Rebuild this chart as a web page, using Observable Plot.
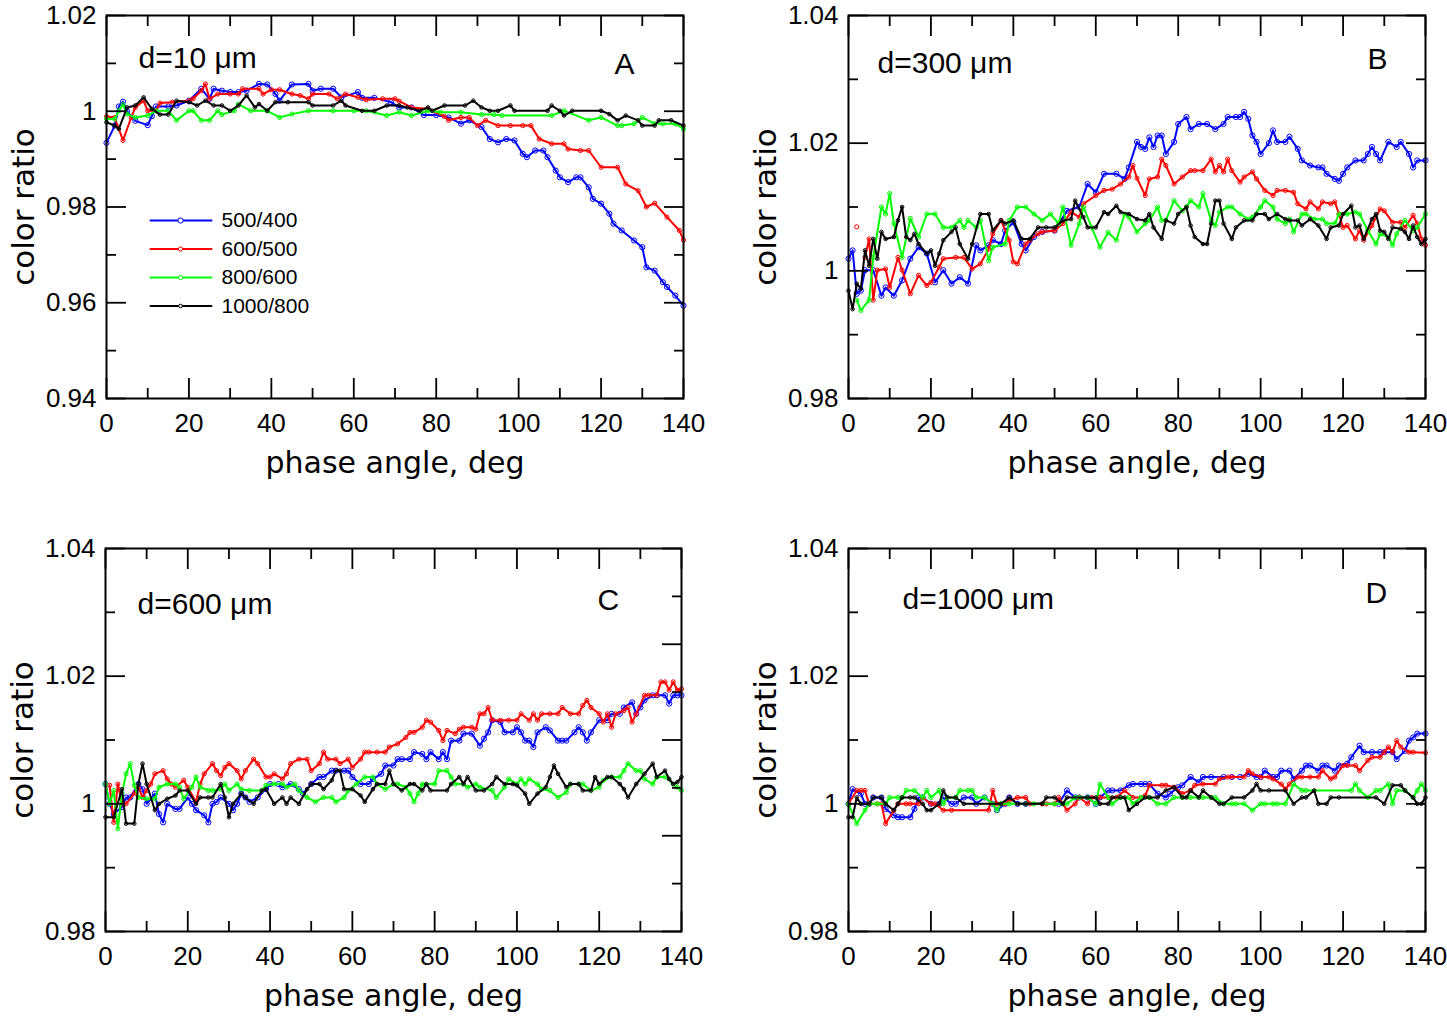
<!DOCTYPE html>
<html>
<head>
<meta charset="utf-8">
<script src="https://cdn.jsdelivr.net/npm/d3@7"></script>
<script src="https://cdn.jsdelivr.net/npm/@observablehq/plot@0.6"></script>
<style>
  body { margin: 0; background: #fff; }
  #fig { position: relative; width: 1447px; height: 1016px; background: #fff; }
  #fig svg { position: absolute; }
</style>
</head>
<body>
<div id="fig"></div>
<script>
// Color ratios vs. phase angle for four particle sizes.
const ratioNames = ["500/400", "600/500", "800/600", "1000/800"];
const ratioColors = ["#0000ff", "#ff0000", "#00ff00", "#000000"];
const markerRadius = [2.6, 2.1, 2.1, 1.8];

const degTicks = [0, 20, 40, 60, 80, 100, 120, 140];
const degMinor = [10, 30, 50, 70, 90, 110, 130];
const ratioTicksA = [0.94, 0.96, 0.98, 1, 1.02];
const ratioMinorA = [0.95, 0.97, 0.99, 1.01];
const ratioTicks = [0.98, 1, 1.02, 1.04];
const ratioMinor = [0.99, 1.01, 1.03];
const rightTicksC = [0.98, 0.995, 1.01, 1.025, 1.04];
const rightMinorC = [0.9875, 1.0025, 1.0175, 1.0325];

// d = 10 um  ([phase angle, ratio])
const d10_500_400 = [[0,0.9934],[2,0.997],[3,1.001],[4,1.002],[5,1.000],[7,0.998],[10,0.9971],[11,0.999],[12,1.001],[15,1.001],[17,1.0012],[20,1.0022],[23,1.0047],[25,1.0026],[26,1.0047],[28,1.0043],[30,1.004],[32,1.004],[34,1.0043],[37,1.0057],[39,1.0056],[41,1.0036],[42,1.0022],[45,1.0056],[49,1.0057],[50,1.0043],[52,1.0047],[55,1.0047],[57,1.0029],[61,1.004],[62,1.0028],[65,1.0028],[69,1.0019],[71,1.0008],[74,1.0008],[77,0.9992],[80,0.9992],[83,0.9987],[86,0.9974],[88,0.9981],[91,0.9967],[93,0.9942],[95,0.9935],[97,0.9942],[99,0.9939],[101,0.9911],[102,0.9904],[104,0.9918],[106,0.9918],[107,0.9904],[109,0.9876],[110,0.9862],[112,0.9852],[114,0.9862],[115,0.9862],[117,0.9841],[118,0.9817],[120,0.9807],[122,0.9786],[123,0.9765],[125,0.9751],[128,0.973],[130,0.9716],[131,0.9674],[133,0.9667],[135,0.9643],[136,0.9633],[138,0.9615],[140,0.9594]];
const d10_600_500 = [[0,0.9989],[2,0.9987],[4,0.9939],[6,0.9987],[7,1.0008],[9,1.0022],[10,1.0001],[12,1.0001],[13,1.0017],[16,1.0019],[20,1.0022],[21,1.0026],[23,1.0043],[24,1.0057],[25,1.0026],[27,1.0036],[30,1.0036],[32,1.0036],[33,1.0047],[37,1.0047],[38,1.0036],[40,1.0045],[42,1.0045],[45,1.0036],[47,1.0033],[49,1.0026],[50,1.0036],[54,1.0036],[56,1.0026],[58,1.0036],[61,1.0029],[63,1.0024],[67,1.0026],[70,1.0026],[71,1.0021],[74,1.0008],[78,1.0005],[82,0.9989],[83,0.9981],[86,0.9987],[88,0.9987],[90,0.997],[92,0.9981],[95,0.997],[98,0.997],[101,0.997],[103,0.997],[105,0.9942],[108,0.9932],[111,0.9932],[112,0.9921],[115,0.9918],[117,0.9918],[120,0.9883],[124,0.9883],[126,0.9848],[129,0.9834],[131,0.98],[133,0.9808],[136,0.9779],[139,0.9751],[140,0.9731]];
const d10_800_600 = [[0,0.9984],[2,0.9984],[3,1.0001],[4,1.0014],[5,0.9994],[7,0.9987],[10,0.9991],[12,1.0001],[15,1.0001],[17,0.9981],[20,1.0001],[21,1.0001],[23,0.9981],[25,0.9981],[27,1.0001],[28,0.9993],[31,1.0001],[32,1.0015],[35,1.0001],[39,1.0001],[42,0.9987],[45,0.9994],[49,1.0001],[55,1.0001],[60,1.0001],[63,1.0001],[68,0.9991],[71,0.9998],[74,0.9991],[78,1.0001],[81,0.9998],[86,0.9998],[91,0.9993],[94,0.9993],[96,0.9991],[108,0.9991],[111,1.0001],[117,0.9981],[120,0.9987],[124,0.997],[125,0.997],[128,0.9974],[130,0.9987],[133,0.9974],[135,0.9974],[138,0.9974],[140,0.9963]];
const d10_1000_800 = [[0,0.9977],[2,0.997],[3,0.9963],[5,1.0008],[7,1.0012],[9,1.0029],[11,1.0005],[13,0.9993],[15,0.9993],[17,1.0022],[20,1.0019],[22,1.0012],[24,1.0022],[26,1.0012],[28,1.0012],[30,1.0001],[32,1.0012],[34,1.0033],[36,1.0008],[37,1.0015],[39,1.0001],[41,1.0019],[44,1.0019],[49,1.0019],[50,1.0012],[55,1.0012],[57,1.0022],[58,1.0012],[62,1.0001],[65,1.0001],[68,1.0012],[71,1.0012],[73,1.0008],[76,1.0001],[78,1.0008],[79,1.0001],[82,1.0012],[87,1.0012],[89,1.0022],[91,1.0008],[93,1.0001],[95,1.0001],[98,1.0012],[99,1.0001],[107,1.0001],[108,1.0012],[110,1.0001],[111,0.9991],[113,1.0001],[120,1.0001],[122,0.9994],[124,0.9981],[126,0.9991],[129,0.9981],[130,0.997],[133,0.997],[134,0.9981],[137,0.9981],[140,0.997]];

// d = 300 um
const d300_500_400 = [[0,1.0019],[1,1.0032],[2,0.9964],[3,0.9969],[4,1.0001],[6,1.0001],[8,0.9961],[9,0.9974],[11,0.9961],[13,0.9985],[15,1.0019],[17,1.0037],[19,1.0027],[21,0.9982],[23,1.0001],[25,0.998],[27,0.999],[29,0.998],[31,1.004],[32,1.0032],[34,1.004],[35,1.0048],[37,1.0042],[38,1.0063],[40,1.0076],[42,1.0042],[43,1.0032],[45,1.0053],[47,1.0061],[50,1.0063],[53,1.0094],[56,1.01],[58,1.0136],[60,1.0123],[62,1.0152],[65,1.0152],[67,1.0144],[68,1.0162],[70,1.0202],[71,1.0194],[72,1.0191],[73,1.0209],[74,1.0194],[75,1.0212],[76,1.0212],[77,1.0183],[79,1.0202],[80,1.023],[82,1.0241],[83,1.0222],[85,1.023],[87,1.023],[89,1.0222],[91,1.023],[92,1.0241],[94,1.0241],[95,1.0241],[96,1.0249],[97,1.0238],[98,1.0212],[99,1.0202],[100,1.0183],[102,1.02],[103,1.022],[104,1.0202],[106,1.0202],[107,1.021],[109,1.0191],[110,1.0173],[112,1.0165],[114,1.0162],[115,1.0162],[116,1.0152],[118,1.0144],[119,1.0141],[120,1.0152],[121,1.0162],[123,1.0173],[125,1.0173],[126,1.0183],[127,1.0194],[128,1.0183],[129,1.0173],[131,1.0202],[133,1.0194],[134,1.0202],[136,1.0183],[137,1.0162],[138,1.0173],[140,1.0173]];
const d300_600_500 = [[4,1.0021],[5,1.005],[6,0.9954],[7,1.0001],[9,1.0003],[10,0.9974],[12,1.0021],[13,1.0001],[15,0.9964],[17,0.9993],[19,0.9977],[20,0.9982],[22,1.0006],[23,1.0019],[26,1.0021],[28,1.0021],[30,1.0003],[32,1.0011],[34,1.0034],[35,1.0058],[37,1.0079],[39,1.0048],[40,1.0014],[41,1.0011],[43,1.0042],[44,1.0048],[46,1.0058],[47,1.0061],[50,1.0063],[52,1.0074],[54,1.0092],[56,1.0084],[57,1.0105],[60,1.0118],[62,1.0126],[64,1.0128],[66,1.0136],[68,1.0147],[69,1.0165],[70,1.0145],[72,1.0118],[73,1.0144],[75,1.0147],[76,1.0175],[77,1.0165],[79,1.0136],[81,1.0147],[83,1.0157],[84,1.0157],[86,1.0157],[88,1.0175],[89,1.0155],[90,1.0165],[91,1.0155],[92,1.0175],[93,1.0157],[95,1.0139],[96,1.0147],[98,1.0155],[99,1.0144],[101,1.0126],[103,1.0118],[104,1.0126],[106,1.0126],[108,1.0123],[109,1.0105],[111,1.0097],[112,1.0108],[114,1.0097],[115,1.0108],[117,1.0105],[118,1.0108],[119,1.0089],[120,1.0068],[121,1.0071],[123,1.005],[124,1.0063],[125,1.0048],[127,1.0071],[129,1.0097],[130,1.0094],[132,1.0076],[134,1.0076],[135,1.0068],[137,1.0087],[138,1.0074],[139,1.005],[140,1.004]];
const d300_600_500_stray = [[2,1.0069]];
const d300_800_600 = [[2,0.9954],[3,0.9938],[5,0.9954],[6,1.0021],[8,1.01],[9,1.0089],[10,1.0121],[11,1.0074],[13,1.0021],[15,1.0082],[17,1.0053],[19,1.0089],[21,1.0089],[23,1.0068],[25,1.0068],[27,1.0079],[28,1.0068],[29,1.0079],[31,1.0068],[32,1.0079],[34,1.0016],[35,1.0037],[38,1.0042],[39,1.0079],[41,1.01],[43,1.01],[45,1.0089],[47,1.0079],[49,1.0089],[51,1.0074],[52,1.01],[54,1.004],[56,1.0074],[57,1.01],[59,1.0068],[61,1.0037],[63,1.006],[65,1.0048],[67,1.0089],[68,1.0084],[70,1.0061],[72,1.0074],[73,1.0079],[75,1.01],[76,1.0079],[77,1.0079],[79,1.011],[81,1.0094],[82,1.01],[83,1.011],[85,1.01],[86,1.0121],[88,1.0079],[89,1.0071],[90,1.0092],[92,1.01],[93,1.01],[95,1.0089],[97,1.0081],[98,1.0084],[100,1.01],[101,1.011],[103,1.01],[104,1.0081],[106,1.0074],[107,1.0081],[108,1.0061],[110,1.0089],[111,1.0089],[113,1.0081],[115,1.0081],[116,1.0074],[118,1.0074],[119,1.0089],[121,1.0089],[123,1.0092],[124,1.0089],[126,1.0063],[128,1.0042],[129,1.0058],[131,1.0053],[132,1.004],[133,1.0058],[135,1.0079],[137,1.0063],[138,1.0068],[140,1.0089]];
const d300_1000_800 = [[0,0.9969],[1,0.994],[2,0.998],[3,0.9972],[4,1.0032],[5,1.0008],[6,1.005],[7,1.0019],[8,1.0061],[9,1.005],[11,1.0053],[12,1.0079],[13,1.01],[14,1.0053],[15,1.0048],[16,1.0058],[17,1.0042],[19,1.0027],[20,1.0032],[21,1.0008],[22,1.0027],[23,1.0048],[25,1.0061],[26,1.0068],[27,1.0042],[29,1.0019],[30,1.0042],[32,1.0089],[34,1.0089],[35,1.0063],[37,1.0079],[38,1.0074],[40,1.0079],[42,1.005],[44,1.005],[46,1.0068],[48,1.0068],[50,1.0068],[52,1.0079],[54,1.0081],[55,1.011],[57,1.0084],[58,1.0068],[60,1.0068],[62,1.0092],[63,1.0089],[65,1.0102],[66,1.0092],[68,1.0089],[70,1.0081],[72,1.0079],[73,1.0089],[74,1.0068],[76,1.005],[77,1.0079],[79,1.0074],[80,1.0089],[82,1.01],[83,1.0071],[84,1.0053],[86,1.0042],[87,1.0042],[88,1.0074],[89,1.011],[90,1.011],[91,1.0074],[93,1.005],[94,1.0068],[96,1.0079],[98,1.0079],[99,1.0089],[101,1.0089],[102,1.0081],[104,1.0089],[106,1.0081],[107,1.0079],[109,1.0079],[110,1.0071],[112,1.0081],[114,1.0071],[116,1.005],[117,1.0068],[119,1.0071],[120,1.0089],[122,1.0102],[123,1.0068],[124,1.0071],[125,1.005],[127,1.0081],[128,1.0089],[129,1.0063],[130,1.0061],[131,1.005],[132,1.0068],[134,1.0066],[135,1.0061],[136,1.005],[137,1.0071],[138,1.0053],[139,1.0042],[140,1.005]];

// d = 600 um
const d600_500_400 = [[0,1.0031],[1,1.0],[2,0.9984],[4,0.9995],[5,1.001],[6,1.001],[8,1.0031],[9,1.0023],[10,1.0],[12,1.0016],[13,0.9984],[14,0.9971],[15,1.0],[17,0.9992],[18,0.9992],[20,1.001],[21,1.0],[22,0.999],[24,0.9982],[25,0.9971],[26,1.0],[27,1.0003],[28,1.001],[30,1.0],[31,0.999],[32,1.0],[33,1.0016],[34,1.001],[35,1.0003],[37,1.001],[39,1.0023],[40,1.0031],[42,1.0031],[43,1.0026],[45,1.0031],[47,1.0023],[48,1.0016],[50,1.0031],[52,1.0042],[53,1.0042],[55,1.0052],[56,1.0052],[58,1.0052],[59,1.0052],[60,1.0042],[62,1.0031],[64,1.0031],[65,1.0039],[67,1.0047],[68,1.006],[70,1.006],[71,1.007],[72,1.007],[74,1.007],[75,1.0081],[77,1.0078],[78,1.007],[79,1.0081],[81,1.007],[82,1.0081],[83,1.007],[84,1.0099],[86,1.0099],[87,1.011],[89,1.011],[91,1.0091],[92,1.0102],[93,1.0112],[94,1.0131],[96,1.0128],[97,1.0112],[99,1.0112],[100,1.012],[101,1.0112],[102,1.0099],[103,1.0099],[104,1.0089],[105,1.0112],[107,1.012],[108,1.0115],[110,1.0099],[111,1.0099],[112,1.0099],[114,1.0112],[115,1.012],[116,1.0112],[117,1.0099],[118,1.0112],[120,1.0131],[122,1.0131],[123,1.0141],[125,1.0141],[126,1.0151],[128,1.0159],[129,1.0141],[130,1.0151],[131,1.0162],[133,1.017],[134,1.017],[136,1.017],[137,1.0157],[138,1.017],[139,1.017],[140,1.017]];
const d600_600_500 = [[1,1.0029],[2,0.9971],[3,1.0031],[4,1.0],[5,1.0],[7,1.0016],[8,1.0026],[9,1.001],[10,1.0021],[11,1.0031],[12,1.0047],[14,1.0052],[15,1.0039],[16,1.0031],[17,1.0026],[19,1.0037],[20,1.0026],[22,1.0003],[23,1.0031],[24,1.0047],[26,1.0063],[27,1.0052],[28,1.0044],[29,1.0057],[30,1.0063],[32,1.0052],[33,1.0039],[34,1.0052],[36,1.007],[37,1.0063],[39,1.0042],[40,1.0042],[41,1.0047],[43,1.0039],[44,1.0047],[45,1.0063],[47,1.007],[49,1.007],[50,1.0052],[52,1.0063],[53,1.0081],[54,1.007],[56,1.007],[57,1.0063],[59,1.007],[60,1.0057],[62,1.007],[63,1.0081],[64,1.0081],[66,1.0081],[68,1.0081],[69,1.0089],[71,1.0094],[73,1.0104],[74,1.0112],[75,1.0112],[77,1.012],[78,1.0131],[79,1.0128],[81,1.0115],[82,1.0099],[83,1.0115],[85,1.011],[86,1.0117],[87,1.012],[89,1.012],[90,1.0117],[91,1.0141],[92,1.0141],[93,1.0151],[94,1.0131],[96,1.0131],[98,1.0131],[100,1.0131],[101,1.0141],[103,1.0131],[104,1.0141],[105,1.0131],[106,1.0141],[108,1.0141],[110,1.0141],[111,1.0151],[113,1.0141],[115,1.0141],[116,1.0154],[117,1.0162],[118,1.0151],[120,1.0141],[121,1.0128],[122,1.0141],[123,1.012],[124,1.0141],[126,1.0146],[127,1.0151],[128,1.0128],[129,1.0141],[131,1.017],[132,1.017],[134,1.017],[135,1.0191],[136,1.0191],[137,1.0178],[138,1.0191],[139,1.0178],[140,1.018]];
const d600_800_600 = [[0,1.0031],[1,1.0],[2,1.0021],[3,0.9961],[4,1.0016],[5,1.0047],[6,1.0063],[7,1.0029],[8,1.001],[10,1.0008],[12,1.0008],[13,1.0026],[15,1.0031],[17,1.0031],[18,1.0026],[19,1.0008],[21,1.0026],[22,1.0042],[23,1.0026],[25,1.0021],[26,1.0021],[28,1.0023],[29,1.0031],[30,1.0021],[32,1.0031],[33,1.0023],[35,1.0021],[38,1.0021],[39,1.0029],[41,1.0031],[43,1.0031],[44,1.0026],[46,1.0031],[47,1.0021],[49,1.001],[51,1.0003],[53,1.001],[55,1.001],[56,1.0003],[58,1.001],[59,1.0021],[61,1.0031],[63,1.0042],[65,1.0042],[66,1.0031],[68,1.0023],[70,1.0031],[71,1.0031],[73,1.0026],[74,1.0016],[75,1.0003],[76,1.0016],[77,1.0031],[80,1.0031],[81,1.0052],[83,1.0052],[84,1.0042],[85,1.0031],[87,1.0031],[88,1.0026],[90,1.0031],[91,1.0026],[94,1.0021],[95,1.001],[97,1.0026],[98,1.0039],[100,1.0031],[101,1.0039],[102,1.0031],[103,1.0039],[105,1.0031],[106,1.0023],[108,1.0021],[110,1.001],[112,1.0018],[113,1.0031],[115,1.0031],[116,1.0031],[118,1.0021],[120,1.0026],[121,1.0037],[123,1.0042],[125,1.0042],[126,1.0052],[127,1.0063],[129,1.0052],[130,1.0052],[131,1.0039],[133,1.0031],[134,1.0042],[136,1.0042],[138,1.0031],[139,1.0026],[140,1.0021]];
const d600_1000_800 = [[0,0.9979],[2,0.9979],[4,1.0023],[5,0.9969],[7,0.9969],[8,1.0031],[9,1.0063],[10,1.0031],[12,0.999],[13,1.0],[15,1.0008],[17,1.0013],[18,1.0021],[20,1.0021],[22,1.0],[23,1.001],[25,1.001],[26,1.001],[28,1.0031],[29,1.001],[30,0.9979],[31,1.0],[33,1.0016],[34,1.001],[36,1.0],[38,1.0021],[39,1.0023],[41,1.0],[43,1.001],[44,1.0],[45,1.001],[47,1.0],[49,1.0023],[50,1.0031],[52,1.0031],[53,1.0023],[55,1.0037],[56,1.0052],[57,1.0052],[58,1.0023],[60,1.0023],[62,1.0013],[63,1.0003],[65,1.0023],[66,1.0031],[68,1.0031],[69,1.0052],[70,1.0031],[72,1.0021],[74,1.0031],[75,1.0031],[77,1.0021],[78,1.0031],[79,1.0021],[83,1.0021],[84,1.0031],[86,1.0042],[87,1.0031],[88,1.0042],[90,1.0021],[92,1.0021],[94,1.0031],[95,1.0042],[97,1.0031],[99,1.0031],[100,1.0029],[102,1.0016],[103,1.0],[105,1.0016],[107,1.0026],[108,1.0042],[109,1.006],[110,1.0047],[112,1.0026],[113,1.0031],[115,1.0031],[116,1.0021],[118,1.0021],[119,1.0042],[120,1.0031],[122,1.0042],[123,1.0042],[125,1.0031],[126,1.0023],[127,1.001],[129,1.0031],[131,1.0047],[133,1.0063],[134,1.0042],[136,1.0052],[137,1.0039],[138,1.0031],[139,1.0034],[140,1.0042]];

// d = 1000 um
const d1000_500_400 = [[0,1.0],[1,1.0023],[3,1.0016],[4,1.0],[5,1.0],[6,1.001],[8,1.001],[9,0.9992],[11,0.9982],[12,0.9979],[13,0.9979],[15,0.9979],[16,0.9992],[17,1.001],[18,1.001],[20,1.0],[22,1.0],[23,1.001],[25,1.0],[26,1.0],[28,1.001],[30,1.001],[31,1.0],[33,1.001],[35,1.0],[36,0.999],[38,1.0],[39,1.001],[41,1.0],[43,1.0],[51,1.0],[53,1.0021],[55,1.001],[56,1.001],[58,1.001],[60,1.0],[61,1.001],[63,1.0021],[64,1.0021],[66,1.0021],[68,1.0029],[69,1.0031],[71,1.0031],[72,1.0031],[73,1.0031],[75,1.0016],[77,1.001],[78,1.0016],[80,1.0026],[81,1.0029],[83,1.0042],[85,1.0034],[86,1.0042],[88,1.0042],[91,1.0042],[93,1.0042],[95,1.0042],[97,1.0047],[99,1.0042],[100,1.0042],[101,1.0052],[103,1.0042],[104,1.0042],[105,1.0052],[107,1.0052],[108,1.0039],[110,1.0052],[111,1.006],[112,1.006],[114,1.0052],[115,1.006],[116,1.006],[118,1.0052],[119,1.006],[121,1.0063],[122,1.0073],[124,1.0091],[125,1.0081],[127,1.0081],[129,1.0081],[130,1.0081],[132,1.0081],[133,1.007],[135,1.0083],[136,1.0099],[137,1.0104],[138,1.011],[140,1.011]];
const d1000_600_500 = [[0,1.0],[2,1.0021],[3,1.0021],[4,1.0021],[5,1.0],[7,1.0],[8,1.0],[9,0.9969],[11,0.999],[12,1.0],[14,1.0],[15,1.0],[17,1.0],[18,1.001],[20,1.0],[21,1.0],[23,0.999],[25,0.999],[34,0.999],[35,1.0021],[36,1.0],[38,1.0],[39,1.0005],[41,1.001],[43,1.001],[44,1.0],[47,1.0],[48,1.0],[50,1.0],[51,1.001],[53,0.999],[55,1.0],[56,1.001],[58,1.0],[59,1.001],[61,1.001],[63,1.001],[65,1.001],[67,1.0021],[69,1.001],[71,1.001],[72,1.0013],[73,1.0029],[76,1.0029],[77,1.0029],[79,1.0026],[81,1.0016],[83,1.0021],[84,1.0029],[86,1.0031],[89,1.0031],[90,1.0039],[92,1.0042],[93,1.0042],[96,1.0042],[97,1.0052],[98,1.0047],[100,1.0042],[102,1.0042],[103,1.0039],[105,1.0031],[106,1.0023],[107,1.0031],[109,1.0042],[110,1.0042],[112,1.0042],[114,1.0042],[115,1.0052],[117,1.0039],[118,1.0042],[120,1.006],[121,1.006],[123,1.006],[124,1.0052],[126,1.0068],[127,1.0073],[129,1.0073],[130,1.0081],[131,1.0089],[132,1.0081],[133,1.0099],[134,1.0089],[136,1.0081],[137,1.0081],[140,1.008]];
const d1000_800_600 = [[0,1.0],[2,0.9969],[4,0.999],[5,1.0],[7,1.0],[9,1.0],[10,1.001],[12,1.001],[13,1.001],[14,1.0021],[16,1.0021],[18,1.001],[19,1.0021],[20,1.001],[22,1.0021],[23,1.0],[24,1.001],[26,1.001],[27,1.0021],[29,1.0021],[30,1.0021],[31,1.001],[33,1.001],[35,1.0],[36,0.999],[37,1.0],[39,1.0],[43,1.0],[45,1.0],[50,1.0],[52,1.0],[53,1.0],[55,1.001],[56,1.001],[58,1.001],[60,1.0],[61,1.0031],[63,1.001],[64,1.0],[66,1.001],[68,1.001],[69,1.0],[71,1.001],[73,1.001],[75,1.0],[77,1.0],[79,1.001],[81,1.001],[83,1.001],[85,1.001],[86,1.001],[88,1.001],[89,1.001],[91,1.0],[93,1.0],[94,1.0],[96,1.0],[98,0.999],[100,1.0],[101,1.0],[103,1.0],[104,1.0],[106,1.0],[108,1.0031],[110,1.0021],[111,1.0021],[122,1.0021],[123,1.0031],[124,1.0021],[126,1.001],[128,1.0021],[129,1.0021],[131,1.0031],[132,1.0],[133,1.0021],[135,1.0021],[137,1.001],[138,1.0021],[139,1.0031],[140,1.0021]];
const d1000_1000_800 = [[0,0.9979],[1,0.9979],[2,1.001],[3,1.0],[5,1.0],[6,1.001],[8,1.001],[9,1.0],[11,0.999],[12,1.0],[13,1.001],[15,1.001],[16,1.001],[18,1.0],[19,0.999],[20,0.999],[22,1.0],[23,1.0021],[24,1.001],[26,1.001],[28,1.0],[37,1.0],[39,1.001],[41,1.0],[43,1.0],[47,1.0],[48,1.001],[50,1.001],[52,1.0],[53,1.001],[58,1.001],[60,1.001],[61,1.0],[63,1.0],[64,1.001],[66,1.001],[67,1.001],[68,0.999],[70,1.0],[72,1.001],[73,1.001],[75,1.001],[77,1.0021],[79,1.0026],[81,1.001],[82,1.001],[83,1.0021],[85,1.001],[86,1.0021],[88,1.001],[90,1.0],[91,1.0],[93,1.001],[96,1.001],[98,1.0021],[99,1.0031],[100,1.0021],[102,1.0021],[106,1.0021],[108,1.0],[110,1.001],[111,1.001],[113,1.0021],[114,1.0],[116,1.0],[117,1.001],[119,1.001],[128,1.001],[130,1.0],[132,1.0029],[134,1.0029],[135,1.0021],[137,1.001],[138,1.0],[139,1.0],[140,1.001]];

const LABEL_FONT = "'DejaVu Sans', Verdana, sans-serif";
const TEXT_FONT = "'Liberation Sans', Arial, Helvetica, sans-serif";

// a straight stroke for vector marks (used by the legend swatches)
const strokeShape = {draw(context, l) { context.moveTo(0, 0); context.lineTo(0, -l); }};

function seriesMarks(seriesList) {
  const marks = [];
  seriesList.forEach((data, i) => {
    marks.push(Plot.line(data, {x: d => d[0], y: d => d[1], stroke: ratioColors[i], strokeWidth: 2}));
    marks.push(Plot.dot(data, {x: d => d[0], y: d => d[1], r: markerRadius[i], stroke: ratioColors[i], strokeWidth: 1, fill: "none"}));
  });
  return marks;
}

function frameAxes({left, leftMinor, right, rightMinor}) {
  const noText = () => "";
  return [
    Plot.axisX(degTicks, {anchor: "bottom", tickSize: -20, tickPadding: 35, strokeWidth: 1.8, tickFormat: d => `${d}`, fontSize: 26, label: null}),
    Plot.axisX(degMinor, {anchor: "bottom", tickSize: -10, tickPadding: 0, strokeWidth: 1.8, tickFormat: noText, label: null}),
    Plot.axisX(degTicks, {anchor: "top", tickSize: -20, tickPadding: 0, strokeWidth: 1.8, tickFormat: noText, label: null}),
    Plot.axisX(degMinor, {anchor: "top", tickSize: -10, tickPadding: 0, strokeWidth: 1.8, tickFormat: noText, label: null}),
    Plot.axisY(left, {anchor: "left", tickSize: -20, tickPadding: 30, strokeWidth: 1.8, tickFormat: d => `${d}`, fontSize: 26, label: null}),
    Plot.axisY(leftMinor, {anchor: "left", tickSize: -10, tickPadding: 0, strokeWidth: 1.8, tickFormat: noText, label: null}),
    Plot.axisY(right, {anchor: "right", tickSize: -20, tickPadding: 0, strokeWidth: 1.8, tickFormat: noText, label: null}),
    Plot.axisY(rightMinor, {anchor: "right", tickSize: -10, tickPadding: 0, strokeWidth: 1.8, tickFormat: noText, label: null}),
    Plot.frame({strokeWidth: 2})
  ];
}

function titleMarks(sizeText, sizePos, letter, letterPos) {
  return [
    Plot.text([sizeText], {frameAnchor: "top-left", text: d => d, dx: sizePos[0], dy: sizePos[1], textAnchor: "start", lineAnchor: "bottom", fontSize: 30, fontFamily: TEXT_FONT, fill: "black"}),
    Plot.text([letter], {frameAnchor: "top-left", text: d => d, dx: letterPos[0], dy: letterPos[1], textAnchor: "start", lineAnchor: "bottom", fontSize: 30, fontFamily: TEXT_FONT, fill: "black"}),
    Plot.text(["phase angle, deg"], {frameAnchor: "bottom", text: d => d, dy: 74, textAnchor: "middle", lineAnchor: "bottom", fontSize: 30, fontFamily: LABEL_FONT, fill: "black"}),
    Plot.text(["color ratio"], {frameAnchor: "left", text: d => d, dx: -82, rotate: -90, textAnchor: "middle", lineAnchor: "middle", fontSize: 31, fontFamily: LABEL_FONT, fill: "black"})
  ];
}

function legendMarks() {
  const marks = [];
  ratioNames.forEach((name, i) => {
    const dy = 205 + i * 28.5;
    marks.push(Plot.vector([name], {frameAnchor: "top-left", dx: 44, dy, rotate: 90, length: 61, anchor: "start", shape: strokeShape, stroke: ratioColors[i], strokeWidth: 2}));
    marks.push(Plot.dot([name], {frameAnchor: "top-left", dx: 74, dy, r: markerRadius[i], stroke: ratioColors[i], strokeWidth: 1, fill: "white"}));
    marks.push(Plot.text([name], {frameAnchor: "top-left", text: d => d, dx: 115, dy, textAnchor: "start", lineAnchor: "middle", fontSize: 21, fontFamily: TEXT_FONT, fill: "black"}));
  });
  return marks;
}

function panel({left, top, margins, yDomain, axes, series, extra = []}) {
  const svg = Plot.plot({
    width: 723,
    height: 508,
    marginTop: margins[0], marginRight: margins[1], marginBottom: margins[2], marginLeft: margins[3],
    x: {domain: [0, 140]},
    y: {domain: yDomain},
    style: {fontFamily: TEXT_FONT, fontSize: "26px", background: "white", color: "black", overflow: "visible"},
    marks: [...seriesMarks(series), ...extra, ...frameAxes(axes)]
  });
  svg.style.left = `${left}px`;
  svg.style.top = `${top}px`;
  document.getElementById("fig").appendChild(svg);
}

panel({
  left: 0, top: 0, margins: [15, 40, 110, 106], yDomain: [0.94, 1.02],
  axes: {left: ratioTicksA, leftMinor: ratioMinorA, right: ratioTicksA, rightMinor: ratioMinorA},
  series: [d10_500_400, d10_600_500, d10_800_600, d10_1000_800],
  extra: [...titleMarks("d=10 μm", [32, 52], "A", [508, 58]), ...legendMarks()]
});

panel({
  left: 723, top: 0, margins: [15, 21, 110, 125], yDomain: [0.98, 1.04],
  axes: {left: ratioTicks, leftMinor: ratioMinor, right: ratioTicks, rightMinor: ratioMinor},
  series: [d300_500_400, d300_600_500, d300_800_600, d300_1000_800],
  extra: [
    Plot.dot(d300_600_500_stray, {x: d => d[0], y: d => d[1], r: markerRadius[1], stroke: ratioColors[1], strokeWidth: 1, fill: "none"}),
    ...titleMarks("d=300 μm", [29, 57], "B", [519, 53])
  ]
});

panel({
  left: 0, top: 508, margins: [40, 42, 85, 105], yDomain: [0.98, 1.04],
  axes: {left: ratioTicks, leftMinor: ratioMinor, right: rightTicksC, rightMinor: rightMinorC},
  series: [d600_500_400, d600_600_500, d600_800_600, d600_1000_800],
  extra: titleMarks("d=600 μm", [32, 65], "C", [492, 61])
});

panel({
  left: 723, top: 508, margins: [40, 21, 85, 125], yDomain: [0.98, 1.04],
  axes: {left: ratioTicks, leftMinor: ratioMinor, right: ratioTicks, rightMinor: ratioMinor},
  series: [d1000_500_400, d1000_600_500, d1000_800_600, d1000_1000_800],
  extra: titleMarks("d=1000 μm", [54, 60], "D", [517, 54])
});
</script>
</body>
</html>
